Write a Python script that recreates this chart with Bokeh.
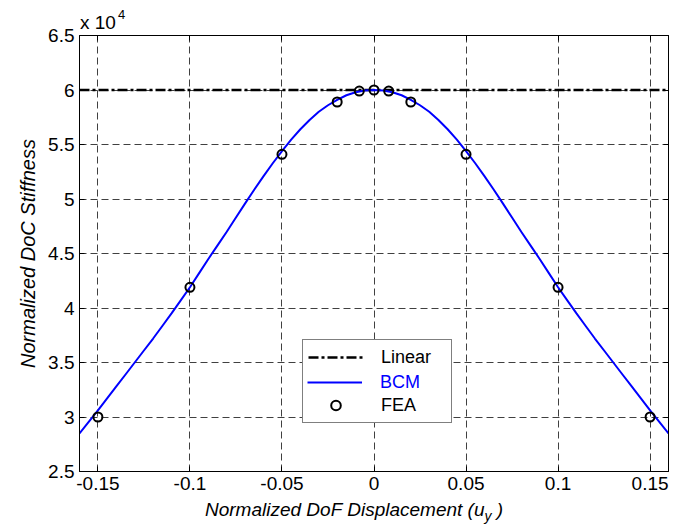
from bokeh.plotting import figure
from bokeh.models import Range1d, LinearAxis, FixedTicker, Legend, LegendItem, Div
from bokeh.layouts import column
from bokeh.embed import file_html
from bokeh.resources import INLINE

# ---- data (stiffness in units of 1e4) ----
x_ticks = [-0.15, -0.1, -0.05, 0, 0.05, 0.1, 0.15]
x_tick_labels = ["-0.15", "-0.1", "-0.05", "0", "0.05", "0.1", "0.15"]
y_ticks = [2.5, 3, 3.5, 4, 4.5, 5, 5.5, 6, 6.5]
y_tick_labels = ["2.5", "3", "3.5", "4", "4.5", "5", "5.5", "6", "6.5"]

lin_x = [-0.16, 0.16]
lin_y = [6.0, 6.0]

bcm_x = [-0.160, -0.155, -0.150, -0.145, -0.140, -0.135, -0.130, -0.125, -0.120, -0.115,
         -0.110, -0.105, -0.100, -0.095, -0.090, -0.085, -0.080, -0.075, -0.070, -0.065,
         -0.060, -0.055, -0.050, -0.045, -0.040, -0.035, -0.030, -0.025, -0.020, -0.015,
         -0.010, -0.005, 0.000, 0.005, 0.010, 0.015, 0.020, 0.025, 0.030, 0.035,
         0.040, 0.045, 0.050, 0.055, 0.060, 0.065, 0.070, 0.075, 0.080, 0.085,
         0.090, 0.095, 0.100, 0.105, 0.110, 0.115, 0.120, 0.125, 0.130, 0.135,
         0.140, 0.145, 0.150, 0.155, 0.160]
bcm_y = [2.850, 2.955, 3.060, 3.170, 3.280, 3.390, 3.500, 3.610, 3.720, 3.835,
         3.950, 4.070, 4.190, 4.320, 4.450, 4.575, 4.700, 4.830, 4.960, 5.087,
         5.210, 5.328, 5.440, 5.545, 5.640, 5.725, 5.800, 5.860, 5.910, 5.952,
         5.980, 5.995, 6.000, 5.995, 5.980, 5.952, 5.910, 5.860, 5.800, 5.725,
         5.640, 5.545, 5.440, 5.328, 5.210, 5.087, 4.960, 4.830, 4.700, 4.575,
         4.450, 4.320, 4.190, 4.070, 3.950, 3.835, 3.720, 3.610, 3.500, 3.390,
         3.280, 3.170, 3.060, 2.955, 2.850]

fea_x = [-0.15, -0.1, -0.05, -0.02, -0.008, 0.0, 0.008, 0.02, 0.05, 0.1, 0.15]
fea_y = [3.0, 4.19, 5.41, 5.89, 5.99, 6.0, 5.99, 5.89, 5.41, 4.19, 3.0]

FONT = "Liberation Sans"

p = figure(width=690, height=478, output_backend="svg", toolbar_location=None,
           x_range=Range1d(-0.16, 0.16), y_range=Range1d(2.5, 6.5),
           min_border_left=79, min_border_right=22, min_border_top=12, min_border_bottom=30)
p.outline_line_color = "black"
p.background_fill_color = "white"
p.border_fill_color = None

for ax, ticks, labels in ((p.xaxis[0], x_ticks, x_tick_labels), (p.yaxis[0], y_ticks, y_tick_labels)):
    ax.ticker = FixedTicker(ticks=ticks)
    ax.major_label_overrides = dict(zip(ticks, labels))
    ax.major_tick_in = 5
    ax.major_tick_out = 0
    ax.minor_tick_line_color = None
    ax.axis_line_color = "black"
    ax.major_tick_line_color = "black"
    ax.major_label_text_font = FONT
    ax.major_label_text_font_size = "19px"
    ax.major_label_text_color = "black"
    ax.major_label_standoff = 5

p.yaxis.axis_label = "Normalized DoC Stiffness"
p.yaxis.axis_label_text_font = FONT
p.yaxis.axis_label_text_font_size = "20px"
p.yaxis.axis_label_text_font_style = "italic"
p.yaxis.axis_label_text_color = "black"
p.yaxis.axis_label_standoff = 6

for loc, ticks in (("above", x_ticks), ("right", y_ticks)):
    ax = LinearAxis(ticker=FixedTicker(ticks=ticks), major_tick_in=5, major_tick_out=0,
                    minor_tick_line_color=None, axis_line_color="black",
                    major_tick_line_color="black",
                    major_label_overrides={t: "" for t in ticks},
                    major_label_standoff=0)
    p.add_layout(ax, loc)

p.xgrid.ticker = FixedTicker(ticks=x_ticks)
p.ygrid.ticker = FixedTicker(ticks=y_ticks)
for g in (p.xgrid[0], p.ygrid[0]):
    g.grid_line_color = "black"
    g.grid_line_alpha = 0.75
    g.grid_line_dash = "7 4"
    g.grid_line_width = 1

r_lin = p.line(lin_x, lin_y, line_color="black", line_width=2.5, line_dash="10 3 3 3")
r_bcm = p.line(bcm_x, bcm_y, line_color="#0000ff", line_width=2)
r_fea = p.scatter(fea_x, fea_y, marker="circle", size=9, fill_color=None,
                  line_color="black", line_width=2)

common = dict(glyph_width=55, glyph_height=24, label_height=24, label_width=65,
              label_standoff=18, spacing=0, label_text_font=FONT,
              label_text_font_size="18px", background_fill_color="white",
              background_fill_alpha=1.0, margin=0)
legA = Legend(items=[LegendItem(label="Linear", renderers=[r_lin]),
                     LegendItem(label="BCM", renderers=[r_bcm]),
                     LegendItem(label="FEA", renderers=[r_fea])],
              location=(223, 48), padding=5, border_line_color="black",
              border_line_width=1.5, label_text_color="black", **common)
legB = Legend(items=[LegendItem(label="BCM", renderers=[r_bcm])],
              location=(228, 77), padding=0, border_line_color=None,
              label_text_color="#0000ff", **common)
p.add_layout(legA)
p.add_layout(legB)

top_div = Div(text=('<div style="position:relative; left:80px; top:6px; white-space:nowrap">'
                    'x 10<span style="font-size:13px; vertical-align:10px; margin-left:2px">4</span></div>'),
              width=690, height=23, margin=0,
              styles={"font-family": FONT, "font-size": "19px", "line-height": "18px",
                      "color": "black", "overflow": "visible"})
bottom_div = Div(text=('<div style="position:relative; left:205px; top:1px; white-space:nowrap">'
                       'Normalized DoF Displacement (u<span style="font-size:14px; vertical-align:-5px">y</span> )</div>'),
                 width=690, height=28, margin=0,
                 styles={"font-family": FONT, "font-size": "19px", "line-height": "16px",
                         "font-style": "italic", "color": "black", "overflow": "visible"})

layout = column(top_div, p, bottom_div, spacing=0)
open("out.html", "w").write(file_html(layout, INLINE))
